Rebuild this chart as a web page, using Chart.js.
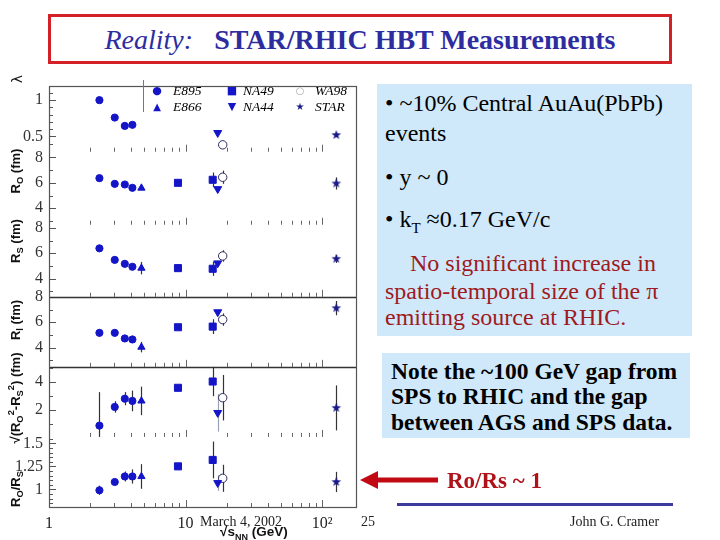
<!DOCTYPE html>
<html>
<head>
<meta charset="utf-8">
<script src="https://cdn.jsdelivr.net/npm/chart.js@4.4.1/dist/chart.umd.min.js"></script>
<style>
  html, body { margin:0; padding:0; background:#fff; }
  #stage { position:relative; width:720px; height:540px; overflow:hidden; background:#fff;
           font-family:"Liberation Serif","Times New Roman",serif; color:#000; }
  .t { position:absolute; white-space:nowrap; }
  #chartWrap { position:absolute; left:0; top:70px; width:362px; height:470px; }
  .ytitle { position:absolute; white-space:nowrap; font-family:"Liberation Sans",Arial,sans-serif;
            font-weight:bold; font-size:13px; color:#111; line-height:1;
            transform:translate(-50%,-50%) rotate(-90deg); }
  .ytitle sub, .ytitle sup { font-size:72%; line-height:0; }
  .box { position:absolute; background:#cfe9fa; }
  .l1 { position:absolute; white-space:nowrap; font-size:24px; line-height:26px; height:26px; }
  .l2 { position:absolute; white-space:nowrap; font-size:23.5px; line-height:26px; height:26px; font-weight:bold; }
  .red { color:#9e1a1e; }
  .lgs { position:absolute; font-family:"DejaVu Sans",sans-serif; color:#1515c8; line-height:14px; height:14px; transform:translateX(-50%); }
  .lgt { position:absolute; font-style:italic; font-size:13.5px; color:#000; line-height:14px; height:14px; }
  .foot { position:absolute; white-space:nowrap; font-size:14px; color:#222; line-height:16px; }
</style>
</head>
<body>
<div id="stage">
  <!-- title -->
  <div class="t" style="left:48px;top:14px;width:618px;height:44px;border:3px solid #d42027;"></div>
  <div class="t" style="left:48px;top:14px;width:624px;height:50px;line-height:52px;text-align:center;font-size:28px;color:#2d2d9f;"><i>Reality:</i>&nbsp;&nbsp;&nbsp;<b>STAR/RHIC HBT Measurements</b></div>

  <!-- chart -->
  <div id="chartWrap"><canvas id="c" width="362" height="470"></canvas></div>

  <!-- legend -->
  <div class="t" style="left:143px;top:80px;width:1px;height:32px;background:#777;"></div>
  <div class="lgs" style="left:157px;top:84px;font-size:11px;">●</div>
  <div class="lgt" style="left:173px;top:84px;">E895</div>
  <div class="lgs" style="left:232px;top:84px;font-size:11px;">■</div>
  <div class="lgt" style="left:243px;top:84px;">NA49</div>
  <div class="lgs" style="left:300px;top:84px;font-size:10px;color:#aaa;">○</div>
  <div class="lgt" style="left:315px;top:84px;">WA98</div>
  <div class="lgs" style="left:157px;top:100px;font-size:10px;">▲</div>
  <div class="lgt" style="left:173px;top:100px;">E866</div>
  <div class="lgs" style="left:232px;top:100px;font-size:11px;">▼</div>
  <div class="lgt" style="left:243px;top:100px;">NA44</div>
  <div class="lgs" style="left:300px;top:100px;font-size:10px;color:#1a1a8a;">★</div>
  <div class="lgt" style="left:315px;top:100px;">STAR</div>

  <!-- y titles -->
  <div class="ytitle" style="left:17px;top:79px;font-size:14px;font-weight:normal;font-family:'DejaVu Sans',sans-serif;">λ</div>
  <div class="ytitle" style="left:15px;top:171px;">R<sub>O</sub> (fm)</div>
  <div class="ytitle" style="left:15px;top:241px;">R<sub>S</sub> (fm)</div>
  <div class="ytitle" style="left:15px;top:320px;">R<sub>l</sub> (fm)</div>
  <div class="ytitle" style="left:15px;top:398px;">√(R<sub>O</sub><sup>2</sup>-R<sub>S</sub><sup>2</sup>) (fm)</div>
  <div class="ytitle" style="left:15px;top:489px;">R<sub>O</sub>/R<sub>S</sub></div>

  <!-- x title -->
  <div class="t" style="left:220px;top:524px;font-family:'Liberation Sans',Arial,sans-serif;font-weight:bold;font-size:13.5px;color:#111;">√s<sub style="font-size:9px;">NN</sub> (GeV)</div>

  <!-- text box 1 -->
  <div class="box" style="left:377px;top:84px;width:315px;height:252px;"></div>
  <div class="l1" style="left:385px;top:90px;">• ~10% Central AuAu(PbPb)</div>
  <div class="l1" style="left:385px;top:120px;">events</div>
  <div class="l1" style="left:385px;top:164px;">• y ~ 0</div>
  <div class="l1" style="left:385px;top:206px;">• k<sub style="font-size:15px;">T</sub> ≈0.17 GeV/c</div>
  <div class="l1 red" style="left:410px;top:250px;">No significant increase in</div>
  <div class="l1 red" style="left:385px;top:278px;">spatio-temporal size of the π</div>
  <div class="l1 red" style="left:385px;top:304px;">emitting source at RHIC.</div>

  <!-- text box 2 -->
  <div class="box" style="left:382px;top:353px;width:308px;height:85px;"></div>
  <div class="l2" style="left:391px;top:358px;">Note the ~100 GeV gap from</div>
  <div class="l2" style="left:391px;top:383px;">SPS to RHIC and the gap</div>
  <div class="l2" style="left:391px;top:409px;">between AGS and SPS data.</div>

  <!-- arrow + label -->
  <svg class="t" style="left:355px;top:465px;" width="90" height="32">
    <polygon points="5,15 23,6 23,12.5 83,12.5 83,17.5 23,17.5 23,24" fill="#c20a14"/>
  </svg>
  <div class="t" style="left:447px;top:468px;font-size:23px;line-height:26px;font-weight:bold;color:#b0121a;">Ro/Rs ~ 1</div>
  <div class="t" style="left:397px;top:503px;width:276px;height:3px;background:#3b3b9c;"></div>

  <!-- footer -->
  <div class="foot" style="left:200px;top:514px;">March 4, 2002</div>
  <div class="foot" style="left:361px;top:514px;">25</div>
  <div class="foot" style="left:570px;top:514px;">John G. Cramer</div>
</div>

<script>
// ---------------- data ----------------
const experimentNames = ['E895', 'E866', 'NA49', 'NA44', 'WA98', 'STAR'];
const experiment = ['E895', 'E895', 'E895', 'E895', 'E866', 'NA49', 'NA49', 'NA44', 'WA98', 'STAR'];
const sqrtSNN    = [2.34, 3.03, 3.59, 4.08, 4.75, 8.8, 15.8, 17.2, 18.7, 127];

const lambdaVal  = [1.00, 0.76, 0.645, 0.66, null, null, null, 0.55, 0.385, 0.52];
const lambdaErr  = [0.03, 0, 0, 0, null, null, null, 0, 0, 0];

const RoVal      = [6.37, 5.92, 5.87, 5.61, 5.59, 6.00, 6.24, 5.52, 6.44, 5.95];
const RoErr      = [0.1, 0, 0, 0.12, 0.1, 0, 0.57, 0, 0.52, 0.48];

const RsVal      = [6.39, 5.48, 5.17, 4.94, 4.83, 4.83, 4.78, 5.22, 5.79, 5.56];
const RsErr      = [0, 0, 0, 0, 0.49, 0, 0.56, 0.12, 0.45, 0.32];

const RlVal      = [5.17, 5.17, 4.73, 4.65, 4.05, 5.61, 5.66, 6.80, 6.21, 7.11];
const RlErr      = [0, 0, 0, 0, 0.41, 0, 0.58, 0, 0.48, 0.56];

const diffVal    = [0.89, 2.23, 2.82, 2.66, 2.66, 3.60, 4.05, 1.81, 2.89, 2.16];
const diffErr    = [2.4, 0.41, 0.47, 0.74, 1.02, 0, 1.05, 1.35, 1.63, 1.61];

const ratioVal   = [0.99, 1.08, 1.14, 1.14, 1.14, 1.25, 1.32, 1.07, 1.12, 1.08];
const ratioErr   = [0.05, 0.02, 0.054, 0.077, 0.134, 0, 0.2, 0.085, 0.147, 0.11];

// tick labels
const xLabelValues   = [1, 10, 100];
const xLabelText     = ['1', '10', '10²'];
const lambdaTicks    = [0.5, 1];
const lambdaTickText = ['0.5', '1'];
const radiusTicks    = [4, 6, 8];
const radiusTickText = ['4', '6', '8'];
const diffTicks      = [2, 4];
const diffTickText   = ['2', '4'];
const ratioTicks     = [1, 1.25, 1.5];
const ratioTickText  = ['1', '1.25', '1.5'];

// ---------------- styling ----------------
const BLUE = '#1515c8';
function starCanvas() {
  const c = document.createElement('canvas');
  c.width = 12; c.height = 12;
  const g = c.getContext('2d');
  g.beginPath();
  for (let i = 0; i < 10; i++) {
    const r = i % 2 === 0 ? 5 : 2.1;
    const a = -Math.PI / 2 + i * Math.PI / 5;
    const px = 6 + r * Math.cos(a), py = 6 + r * Math.sin(a);
    if (i === 0) g.moveTo(px, py); else g.lineTo(px, py);
  }
  g.closePath();
  g.fillStyle = '#1a1a8a';
  g.fill();
  return c;
}
const STAR_IMG = starCanvas();

const styleOf = {
  E895: { pointStyle: 'circle',   radius: 3.6, bg: BLUE, bd: BLUE, bw: 1, rot: 0,   err: '#333' },
  E866: { pointStyle: 'triangle', radius: 4.2, bg: BLUE, bd: BLUE, bw: 1, rot: 0,   err: '#333' },
  NA49: { pointStyle: 'rect',     radius: 5,   bg: BLUE, bd: BLUE, bw: 1, rot: 0,   err: '#333' },
  NA44: { pointStyle: 'triangle', radius: 4.6, bg: BLUE, bd: BLUE, bw: 1, rot: 180, err: '#9aa3b5' },
  WA98: { pointStyle: 'circle',   radius: 4.2, bg: '#fff', bd: '#2a2a5a', bw: 1, rot: 0, err: '#333' },
  STAR: { pointStyle: STAR_IMG,   radius: 5,   bg: '#1a1a8a', bd: '#1a1a8a', bw: 1, rot: 0, err: '#333' }
};

function stepTicks(min, max, step) {
  const out = [];
  const start = Math.ceil(min / step - 1e-9);
  for (let k = start; k * step <= max + 1e-9; k++) out.push(+(k * step).toFixed(6));
  return out;
}

const panels = [
  { id: 'yL',  vals: lambdaVal, errs: lambdaErr, min: 0.29, max: 1.2,  step: 0.1,  lab: lambdaTicks, txt: lambdaTickText, w: 67 },
  { id: 'yRo', vals: RoVal,     errs: RoErr,     min: 2.7,  max: 8.45, step: 1,    lab: radiusTicks, txt: radiusTickText, w: 74 },
  { id: 'yRs', vals: RsVal,     errs: RsErr,     min: 2.57, max: 8.25, step: 1,    lab: radiusTicks, txt: radiusTickText, w: 73 },
  { id: 'yRl', vals: RlVal,     errs: RlErr,     min: 2.5,  max: 8.0,  step: 1,    lab: radiusTicks, txt: radiusTickText, w: 71 },
  { id: 'yD',  vals: diffVal,   errs: diffErr,   min: 0.08, max: 5.1,  step: 1,    lab: diffTicks,   txt: diffTickText,   w: 71 },
  { id: 'yQ',  vals: ratioVal,  errs: ratioErr,  min: 0.808,max: 1.57, step: 0.05, lab: ratioTicks,  txt: ratioTickText,  w: 71 }
];
const solidBelow = ['yRs', 'yRl'];

const datasets = [];
panels.forEach(p => {
  experimentNames.forEach(name => {
    const pts = [];
    experiment.forEach((e, i) => {
      if (e === name && p.vals[i] !== null) pts.push({ x: sqrtSNN[i], y: p.vals[i], e: p.errs[i] });
    });
    if (!pts.length) return;
    const s = styleOf[name];
    datasets.push({
      label: name, data: pts, xAxisID: 'x', yAxisID: p.id,
      pointStyle: s.pointStyle, pointRadius: s.radius, rotation: s.rot,
      backgroundColor: s.bg, borderColor: s.bd, borderWidth: s.bw,
      errColor: s.err
    });
  });
});

const xTickValues = [1,2,3,4,5,6,7,8,9,10,20,30,40,50,60,70,80,90,100];

const scales = {
  x: {
    type: 'logarithmic', position: 'bottom', min: 1, max: 177,
    grid: { display: false, drawTicks: false }, border: { display: false },
    afterBuildTicks: s => { s.ticks = xTickValues.map(v => ({ value: v })); },
    afterFit: s => { s.height = 33; },
    ticks: {
      autoSkip: false, maxRotation: 0, padding: 7, color: '#222',
      font: { family: 'Liberation Serif', size: 16 },
      callback: v => { const k = xLabelValues.indexOf(v); return k >= 0 ? xLabelText[k] : ''; }
    }
  }
};
panels.forEach((p, idx) => {
  scales[p.id] = {
    type: 'linear', position: 'left', stack: 'panels', stackWeight: p.w, weight: panels.length - idx,
    min: p.min, max: p.max,
    grid: { display: false, drawTicks: false }, border: { display: false },
    afterBuildTicks: s => { s.ticks = stepTicks(p.min, p.max, p.step).map(v => ({ value: v })); },
    afterFit: s => { s.width = 49; },
    ticks: {
      autoSkip: false, padding: 6, color: '#333',
      font: { family: 'Liberation Serif', size: 16 },
      callback: v => { const k = p.lab.findIndex(t => Math.abs(t - v) < 1e-6); return k >= 0 ? p.txt[k] : ''; }
    }
  };
});

const framePlugin = {
  id: 'framePlugin',
  beforeDatasetsDraw(chart) {
    const ctx = chart.ctx, xs = chart.scales.x;
    ctx.save();
    ctx.lineWidth = 1.2;
    chart.data.datasets.forEach(ds => {
      const ys = chart.scales[ds.yAxisID];
      ctx.strokeStyle = ds.errColor;
      ds.data.forEach(p => {
        if (!p.e) return;
        const px = Math.round(xs.getPixelForValue(p.x)) + 0.5;
        const y1 = Math.max(ys.getPixelForValue(p.y + p.e), ys.top);
        const y2 = Math.min(ys.getPixelForValue(p.y - p.e), ys.bottom);
        ctx.beginPath(); ctx.moveTo(px, y1); ctx.lineTo(px, y2); ctx.stroke();
      });
    });
    ctx.restore();
  },
  afterDraw(chart) {
    const ctx = chart.ctx, a = chart.chartArea, xs = chart.scales.x;
    ctx.save();
    ctx.lineWidth = 1;
    panels.forEach(p => {
      const ys = chart.scales[p.id];
      // y ticks (inside, left)
      ctx.strokeStyle = '#555';
      ys.ticks.forEach(t => {
        const py = Math.round(ys.getPixelForValue(t.value)) + 0.5;
        if (py <= ys.top + 1 || py >= ys.bottom - 1) return;
        const major = p.lab.some(v => Math.abs(v - t.value) < 1e-6);
        ctx.beginPath(); ctx.moveTo(a.left, py); ctx.lineTo(a.left + (major ? 7 : 4), py); ctx.stroke();
      });
      // x ticks along panel bottom
      ctx.strokeStyle = '#666';
      xTickValues.forEach(v => {
        if (v === 1) return;
        const px = Math.round(xs.getPixelForValue(v)) + 0.5;
        const major = xLabelValues.indexOf(v) >= 0;
        ctx.beginPath(); ctx.moveTo(px, ys.bottom); ctx.lineTo(px, ys.bottom - (major ? 7 : 4)); ctx.stroke();
      });
      if (solidBelow.indexOf(p.id) >= 0) {
        ctx.save(); ctx.strokeStyle = '#333'; ctx.lineWidth = 1.5;
        ctx.beginPath(); ctx.moveTo(a.left, Math.round(ys.bottom) + 0.5); ctx.lineTo(a.right, Math.round(ys.bottom) + 0.5); ctx.stroke();
        ctx.restore();
      }
    });
    // frame
    ctx.strokeStyle = '#555'; ctx.lineWidth = 1.2;
    ctx.strokeRect(Math.round(a.left) + 0.5, Math.round(a.top) + 0.5, Math.round(a.right - a.left), Math.round(a.bottom - a.top));
    ctx.restore();
  }
};

new Chart(document.getElementById('c'), {
  type: 'scatter',
  data: { datasets },
  options: {
    responsive: false, animation: false,
    layout: { padding: { top: 10, right: 5, left: 0, bottom: 0 } },
    plugins: { legend: { display: false }, tooltip: { enabled: false } },
    scales
  },
  plugins: [framePlugin]
});
</script>
</body>
</html>
